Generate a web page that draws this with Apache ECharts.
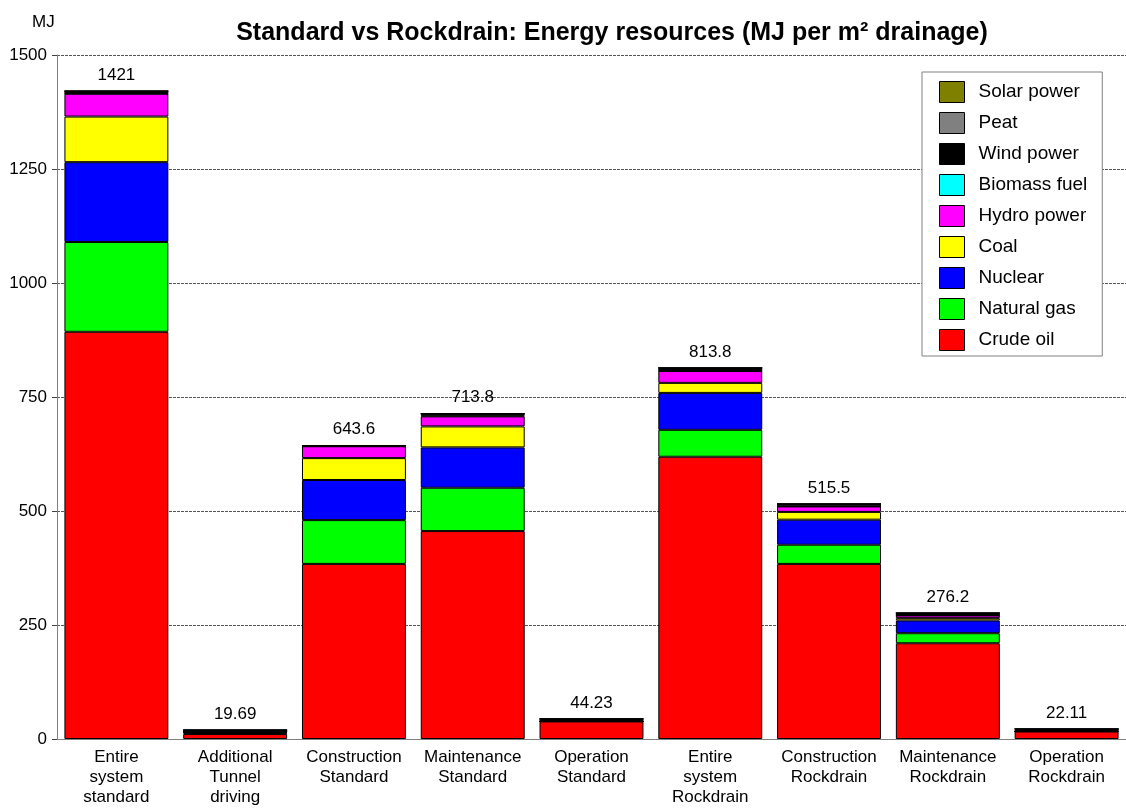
<!DOCTYPE html>
<html>
<head>
<meta charset="utf-8">
<script src="https://cdn.jsdelivr.net/npm/echarts@6/dist/echarts.min.js"></script>
<style>
  html, body { margin: 0; padding: 0; background: #fff; }
  #chart { width: 1126px; height: 810px; }
</style>
</head>
<body>
<div id="chart"></div>
<script>
const categories = [
  "Entire\nsystem\nstandard", "Additional\nTunnel\ndriving", "Construction\nStandard",
  "Maintenance\nStandard", "Operation\nStandard", "Entire\nsystem\nRockdrain",
  "Construction\nRockdrain", "Maintenance\nRockdrain", "Operation\nRockdrain"
];
// stacked bottom -> top
const crudeOil   = [893, 11, 384, 456, 38.5, 619, 384, 210, 16.5];
const naturalGas = [197, 2.5, 96, 95, 0, 59, 42, 22, 0];
const nuclear    = [175, 1.2, 88, 88.5, 0, 81, 55, 28, 0];
const coal       = [100, 0.8, 48, 46, 0, 22, 17, 5, 0];
const hydro      = [50, 0.5, 26, 22, 0, 26, 12, 6, 0];
const biomass    = [0.5, 0, 0.3, 1.5, 0, 0.3, 0.2, 0.1, 0];
const wind       = [5, 3.5, 1, 4, 5.5, 6.2, 5.1, 5, 5.4];
const peat       = [0.3, 0.1, 0.2, 0.5, 0.1, 0.2, 0.1, 0.05, 0.1];
const solar      = [0.2, 0.09, 0.1, 0.3, 0.13, 0.1, 0.1, 0.05, 0.11];
const totals = ["1421", "19.69", "643.6", "713.8", "44.23", "813.8", "515.5", "276.2", "22.11"];
const yTicks = [0, 250, 500, 750, 1000, 1250, 1500];

const font = "Arial, 'Liberation Sans', sans-serif";

const layers = [
  { name: "Crude oil", color: "#ff0000", data: crudeOil },
  { name: "Natural gas", color: "#00ff00", data: naturalGas },
  { name: "Nuclear", color: "#0000ff", data: nuclear },
  { name: "Coal", color: "#ffff00", data: coal },
  { name: "Hydro power", color: "#ff00ff", data: hydro },
  { name: "Biomass fuel", color: "#00ffff", data: biomass },
  { name: "Wind power", color: "#000000", data: wind },
  { name: "Peat", color: "#808080", data: peat },
  { name: "Solar power", color: "#808000", data: solar }
];

let myChart = echarts.init(document.getElementById("chart"));

let series = layers.map(function (l, i) {
  let s = {
    name: l.name,
    type: "bar",
    stack: "total",
    barCategoryGap: "12.5%",
    itemStyle: { color: l.color, borderColor: "#000", borderWidth: 1 },
    data: l.data
  };
  // total label on the top segment
  if (i === layers.length - 1) {
    s.label = {
      show: true,
      position: "top",
      distance: 7,
      formatter: function (p) { return totals[p.dataIndex]; },
      color: "#000",
      fontSize: 17,
      fontFamily: font
    };
  }
  return s;
});

let option = {
  animation: false,
  textStyle: { fontFamily: font },
  title: [
    {
      text: "Standard vs Rockdrain: Energy resources (MJ per m\u00b2 drainage)",
      left: 607,
      textAlign: "center",
      top: 16,
      textStyle: { fontSize: 25, fontWeight: "bold", color: "#000", fontFamily: font }
    },
    {
      text: "MJ",
      left: 27,
      top: 9,
      textStyle: { fontSize: 17, fontWeight: "normal", color: "#000", fontFamily: font }
    }
  ],
  legend: {
    orient: "vertical",
    left: 922,
    top: 72,
    padding: [9, 15, 5, 17],
    itemGap: 9,
    itemWidth: 25,
    itemHeight: 21,
    backgroundColor: "#fff",
    borderColor: "#808080",
    borderWidth: 1,
    icon: "rect",
    itemStyle: { borderColor: "#000", borderWidth: 1 },
    textStyle: { fontSize: 19, color: "#000", fontFamily: font, padding: [0, 0, 0, 9] },
    data: ["Solar power", "Peat", "Wind power", "Biomass fuel", "Hydro power", "Coal", "Nuclear", "Natural gas", "Crude oil"]
  },
  grid: { left: 57, right: 0, top: 55, bottom: 71, containLabel: false },
  xAxis: {
    type: "category",
    data: categories,
    axisLine: { lineStyle: { color: "#808080", width: 1 } },
    axisTick: { show: false },
    axisLabel: { color: "#000", fontSize: 17, lineHeight: 20, margin: 8, interval: 0, fontFamily: font }
  },
  yAxis: {
    type: "value",
    min: yTicks[0],
    max: yTicks[yTicks.length - 1],
    interval: 250,
    axisLine: { show: true, lineStyle: { color: "#808080" } },
    axisTick: { show: true, length: 5, lineStyle: { color: "#404040" } },
    axisLabel: {
      color: "#000", fontSize: 17, margin: 10, fontFamily: font,
      formatter: function (v) { return String(v); }
    },
    splitLine: { show: true, lineStyle: { color: "#555", type: [3, 1], width: 1 } }
  },
  series: series
};
myChart.setOption(option);
</script>
</body>
</html>
